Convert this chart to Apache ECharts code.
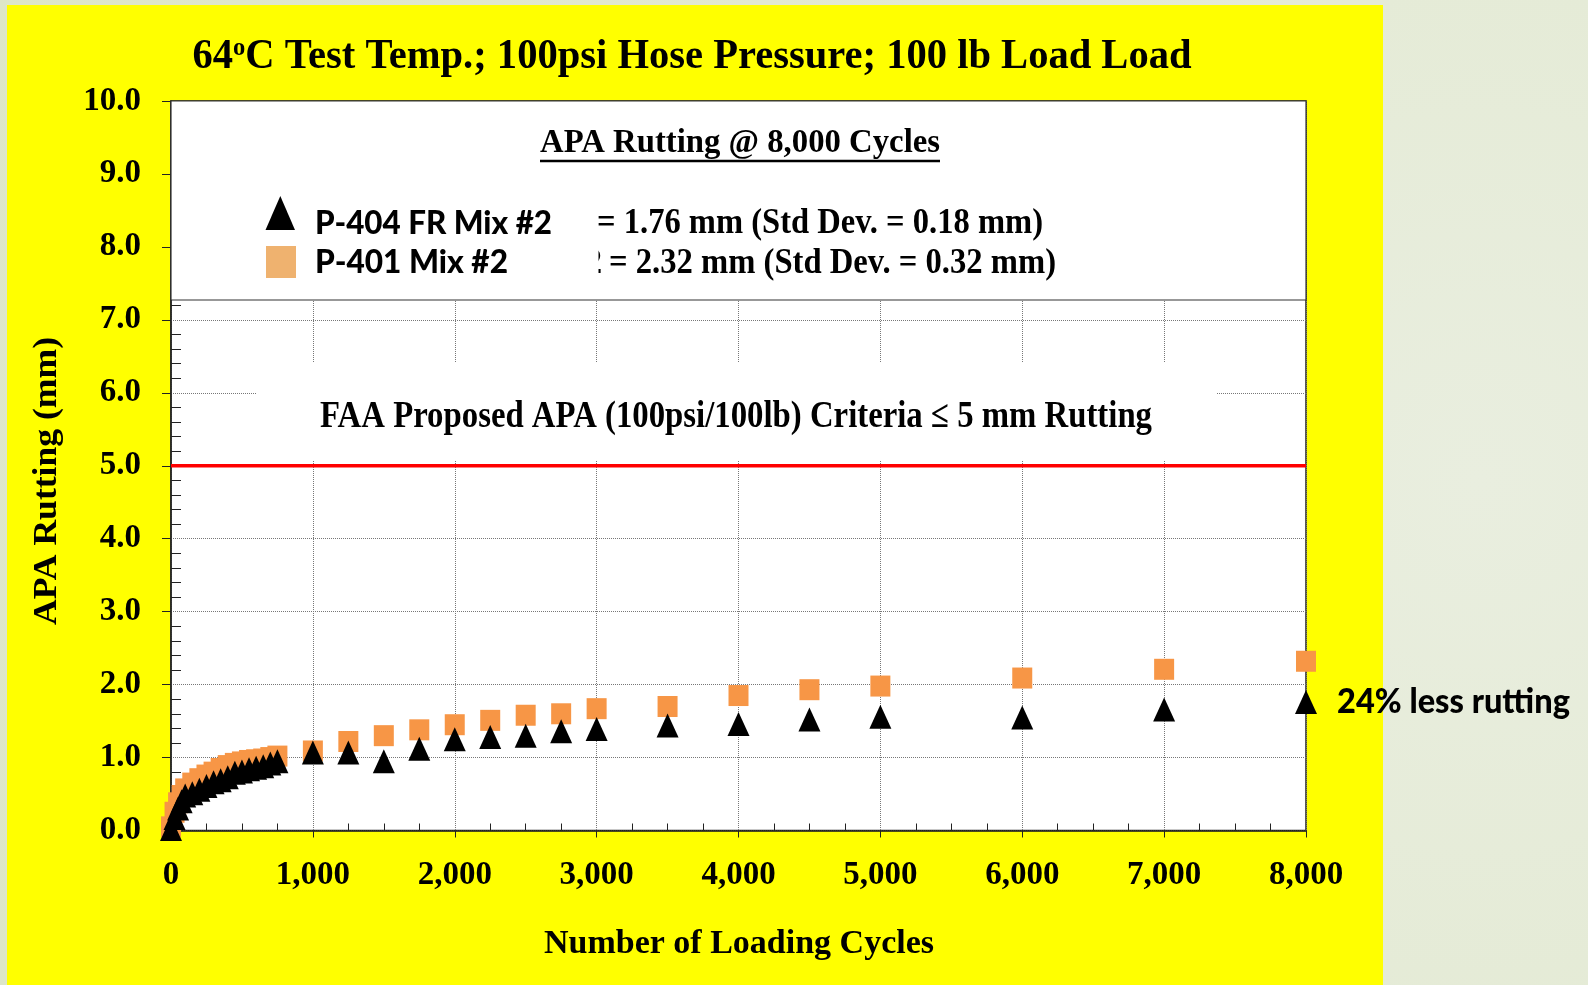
<!DOCTYPE html>
<html>
<head>
<meta charset="utf-8">
<script src="https://cdn.jsdelivr.net/npm/echarts@6/dist/echarts.min.js"></script>
<style>
  html, body { margin: 0; padding: 0; }
  .page {
    position: relative;
    width: 1588px;
    height: 985px;
    background: radial-gradient(circle at 1480px 480px, #e9eedf 0%, #e2e9d1 55%, #dde6c8 100%);
    overflow: hidden;
  }
  .panel {
    position: absolute;
    left: 7px;
    top: 5px;
    width: 1376px;
    height: 980px;
    background: #ffff00;
  }
  #chart {
    position: absolute;
    left: 0;
    top: 0;
    width: 1588px;
    height: 985px;
  }
</style>
</head>
<body>
<div class="page">
  <div class="panel"></div>
  <div id="chart"></div>
</div>
<script>
// loading cycles (same for both mixes)
const cycles = [0, 25, 50, 75, 100, 150, 200, 250, 300, 350, 400, 450, 500, 550, 600, 650, 700, 750,
  1000, 1250, 1500, 1750, 2000, 2250, 2500, 2750, 3000, 3500, 4000, 4500, 5000, 6000, 7000, 8000];

// P-401 Mix #2 rutting (mm)
const rut401 = [0.05, 0.25, 0.38, 0.48, 0.57, 0.65, 0.71, 0.76, 0.80, 0.85, 0.89, 0.92, 0.94, 0.96, 0.97, 0.98, 1.00, 1.02,
  1.09, 1.22, 1.30, 1.38, 1.45, 1.51, 1.58, 1.60, 1.67, 1.70, 1.85, 1.93, 1.98, 2.09, 2.21, 2.32];

// P-404 FR Mix #2 rutting (mm)
const rut404 = [0.02, 0.17, 0.30, 0.40, 0.48, 0.51, 0.56, 0.61, 0.66, 0.69, 0.73, 0.79, 0.81, 0.84, 0.86, 0.88, 0.92, 0.95,
  1.07, 1.07, 0.95, 1.12, 1.25, 1.28, 1.30, 1.36, 1.39, 1.44, 1.46, 1.52, 1.56, 1.55, 1.66, 1.76];

// FAA criteria line (mm)
const criteria = 5;
const xRange = [0, 8000];

const serif = '"Liberation Serif", "Times New Roman", serif';
const sans = 'Lato, "Open Sans", sans-serif';

// measure text so condensed looking labels can be squeezed to the right width
const mctx = document.createElement('canvas').getContext('2d');
function fitScale(text, font, width) {
  mctx.font = font;
  return width / mctx.measureText(text).width;
}

function txt(text, font, x, y, width, align, extra) {
  return Object.assign({
    type: 'text',
    x: x,
    y: y,
    z: 10,
    scaleX: fitScale(text, font, width),
    style: {
      text: text,
      font: font,
      fill: '#000',
      textAlign: align,
      textVerticalAlign: 'middle'
    }
  }, extra || {});
}

const chart = echarts.init(document.getElementById('chart'));

// title with superscript o
const titleFont = 'bold 43px ' + serif;
const supFont = 'bold 26px ' + serif;
mctx.font = titleFont;
let titleW = mctx.measureText('64C Test Temp.; 100psi Hose Pressure; 100 lb Load Load').width;
mctx.font = supFont;
titleW += mctx.measureText('o').width;

const axisFont = {
  fontFamily: serif,
  fontWeight: 'bold',
  fontSize: 33,
  color: '#000'
};

const option = {
  animation: false,
  grid: {
    left: 171,
    top: 101,
    right: 282,
    bottom: 154.5,
    show: true,
    backgroundColor: '#fff',
    borderColor: '#222',
    borderWidth: 1.5
  },
  xAxis: [
    {
      type: 'value',
      min: xRange[0],
      max: xRange[1],
      interval: 1000,
      axisLine: { show: true, lineStyle: { color: '#222', width: 1.5 } },
      axisTick: { show: true, length: 7, lineStyle: { color: '#222' } },
      axisLabel: Object.assign({
        margin: 28,
        formatter: v => v.toLocaleString('en-US')
      }, axisFont),
      splitLine: { show: true, lineStyle: { color: '#777', type: 'dotted', width: 1 } }
    },
    {
      type: 'value',
      position: 'bottom',
      min: xRange[0],
      max: xRange[1],
      interval: 1000,
      axisLine: { show: false },
      axisLabel: { show: false },
      splitLine: { show: false },
      axisTick: { show: false, inside: true },
      minorTick: { show: true, splitNumber: 4, length: 7, lineStyle: { color: '#222' } }
    }
  ],
  yAxis: [
    {
      type: 'value',
      min: 0,
      max: 10,
      interval: 1,
      axisLine: { show: true, lineStyle: { color: '#222', width: 1.5 } },
      axisTick: { show: true, length: 9, lineStyle: { color: '#222' } },
      axisLabel: Object.assign({
        margin: 30,
        formatter: v => v.toFixed(1)
      }, axisFont),
      splitLine: { show: true, lineStyle: { color: '#777', type: 'dotted', width: 1 } }
    },
    {
      type: 'value',
      position: 'left',
      min: 0,
      max: 10,
      interval: 1,
      axisLine: { show: false },
      axisLabel: { show: false },
      splitLine: { show: false },
      axisTick: { show: false, inside: true },
      minorTick: { show: true, splitNumber: 5, length: 10, lineStyle: { color: '#222' } }
    }
  ],
  series: [
    {
      name: 'FAA Criteria',
      type: 'line',
      xAxisIndex: 0,
      yAxisIndex: 0,
      data: [[xRange[0], criteria], [xRange[1], criteria]],
      symbol: 'none',
      lineStyle: { color: '#ff0000', width: 3.5 },
      z: 3
    },
    {
      name: 'P-401 Mix #2',
      type: 'scatter',
      xAxisIndex: 0,
      yAxisIndex: 0,
      clip: false,
      symbol: 'rect',
      symbolSize: [20, 21],
      itemStyle: { color: '#f79646', opacity: 1 },
      data: cycles.map((c, i) => [c, rut401[i]]),
      z: 4
    },
    {
      name: 'P-404 FR Mix #2',
      type: 'scatter',
      xAxisIndex: 0,
      yAxisIndex: 0,
      clip: false,
      symbol: 'triangle',
      symbolSize: [22, 24],
      itemStyle: { color: '#000', opacity: 1 },
      data: cycles.map((c, i) => [c, rut404[i]]),
      z: 5
    }
  ],
  graphic: [
    // white legend box on top of the plot
    {
      type: 'rect',
      z: 1,
      shape: { x: 171, y: 101, width: 1135, height: 199 },
      style: { fill: '#fff', stroke: '#333', lineWidth: 1.2 }
    },
    // white backing for the criteria label
    {
      type: 'rect',
      z: 1,
      shape: { x: 256, y: 363, width: 960, height: 98 },
      style: { fill: '#fff' }
    },
    {
      type: 'text',
      x: 692,
      y: 57,
      z: 10,
      scaleX: 999 / titleW,
      style: {
        text: '64{sup|o}C Test Temp.; 100psi Hose Pressure; 100 lb Load Load',
        font: titleFont,
        fill: '#000',
        textAlign: 'center',
        textVerticalAlign: 'middle',
        rich: {
          sup: { font: supFont, fill: '#000', verticalAlign: 'top', lineHeight: 26 }
        }
      }
    },
    txt('APA Rutting @ 8,000 Cycles', 'bold 33px ' + serif, 740, 143, 400, 'center'),
    {
      type: 'line',
      z: 10,
      shape: { x1: 540, y1: 161, x2: 940, y2: 161 },
      style: { stroke: '#000', lineWidth: 2.5 }
    },
    {
      type: 'polygon',
      z: 10,
      shape: { points: [[265.5, 230], [280.3, 196], [295, 230]] },
      style: { fill: '#000' }
    },
    {
      type: 'rect',
      z: 10,
      shape: { x: 266, y: 246, width: 30, height: 32 },
      style: { fill: '#efb26f' }
    },
    txt('P-404 FR Mix #2', '900 32px ' + sans, 315, 224, 237, 'left'),
    txt('P-401 Mix #2', '900 32px ' + sans, 315, 263, 193, 'left'),
    txt('= 1.76 mm (Std Dev. = 0.18 mm)', 'bold 35px ' + serif, 597, 224, 446, 'left'),
    // clipped leftover of a hidden character before the second value
    txt('2', 'bold 35px ' + serif, 586, 264, 16, 'left', { z: 9 }),
    {
      type: 'rect',
      z: 9.5,
      shape: { x: 570, y: 244, width: 28.5, height: 36 },
      style: { fill: '#fff' }
    },
    txt('= 2.32 mm (Std Dev. = 0.32 mm)', 'bold 35px ' + serif, 609, 264, 447, 'left'),
    txt('FAA Proposed APA (100psi/100lb) Criteria \u2264 5 mm Rutting', 'bold 38px ' + serif, 736, 417, 832, 'center'),
    txt('24% less rutting', '900 34px ' + sans, 1337, 702, 233, 'left'),
    txt('Number of Loading Cycles', 'bold 34px ' + serif, 739, 944, 390, 'center'),
    txt('APA Rutting (mm)', 'bold 33px ' + serif, 47, 481, 288, 'center', { rotation: Math.PI / 2 })
  ]
};

chart.setOption(option);
</script>
</body>
</html>
